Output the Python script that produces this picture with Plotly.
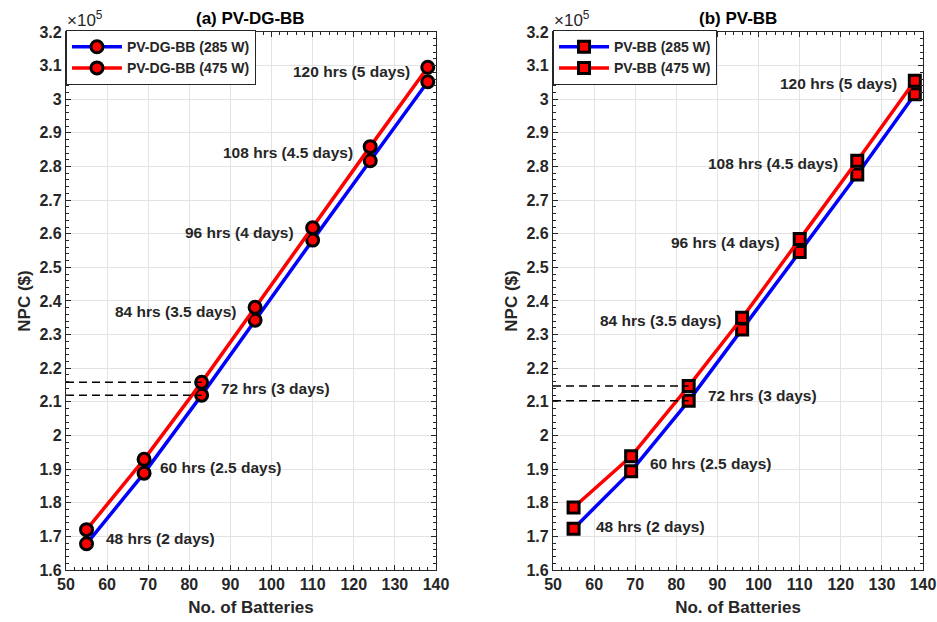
import plotly.graph_objects as go

# Number of batteries for each storage autonomy level
batteries = [55, 69, 83, 96, 110, 124, 138]
autonomy_labels = ["48 hrs (2 days)", "60 hrs (2.5 days)", "72 hrs (3 days)",
                   "84 hrs (3.5 days)", "96 hrs (4 days)", "108 hrs (4.5 days)",
                   "120 hrs (5 days)"]

# NPC in units of 1e5 $
npc_dg_285 = [1.678, 1.888, 2.120, 2.343, 2.581, 2.817, 3.052]
npc_dg_475 = [1.720, 1.929, 2.158, 2.381, 2.618, 2.859, 3.095]
npc_bb_285 = [1.723, 1.894, 2.103, 2.315, 2.546, 2.776, 3.015]
npc_bb_475 = [1.786, 1.938, 2.147, 2.350, 2.584, 2.817, 3.055]

FONT = "Liberation Sans, Arial, sans-serif"
INK = "#262626"

fig = go.Figure()

dom_a = [0.0704, 0.4653]
dom_b = [0.5902, 0.9851]
dom_y = [0.0836, 0.9486]

def add_series(x, y, name, color, symbol, xa, ya, legend):
    fig.add_trace(go.Scatter(
        x=x, y=y, name=name, mode="lines+markers",
        line=dict(color=color, width=3.5),
        marker=dict(symbol=symbol, color="#ff0000",
                    size=12 if symbol == "circle" else 11,
                    line=dict(color="black", width=3)),
        xaxis=xa, yaxis=ya, legend=legend))

add_series(batteries, npc_dg_285, "PV-DG-BB (285 W)", "#0000ff", "circle", "x", "y", "legend")
add_series(batteries, npc_dg_475, "PV-DG-BB (475 W)", "#ff0000", "circle", "x", "y", "legend")
add_series(batteries, npc_bb_285, "PV-BB (285 W)", "#0000ff", "square", "x2", "y2", "legend2")
add_series(batteries, npc_bb_475, "PV-BB (475 W)", "#ff0000", "square", "x2", "y2", "legend2")

# Dashed guides marking the 72 hr (3 day) NPC values
for ys, xa, ya in [(npc_dg_285, "x", "y"), (npc_dg_475, "x", "y"),
                   (npc_bb_285, "x2", "y2"), (npc_bb_475, "x2", "y2")]:
    fig.add_trace(go.Scatter(
        x=[50, batteries[2]], y=[ys[2], ys[2]], mode="lines",
        line=dict(color="black", width=1.5, dash="8px,5px"),
        showlegend=False, hoverinfo="skip", xaxis=xa, yaxis=ya))

# Autonomy annotations: (x, y, anchor)
pos_a = [(59.2, 1.695, "left"), (72.4, 1.906, "left"), (87.2, 2.141, "left"),
         (91.8, 2.370, "right"), (105.9, 2.605, "right"), (120.3, 2.843, "right"),
         (134.2, 3.081, "right")]
pos_b = [(60.0, 1.728, "left"), (73.1, 1.916, "left"), (87.2, 2.120, "left"),
         (91.3, 2.343, "right"), (105.7, 2.573, "right"), (119.8, 2.810, "right"),
         (134.1, 3.048, "right")]

annotations = []
for (px, py, anc), txt in zip(pos_a, autonomy_labels):
    annotations.append(dict(x=px, y=py, xref="x", yref="y", text=txt, showarrow=False,
                            xanchor=anc, yanchor="middle",
                            font=dict(family=FONT, size=15.5, color=INK, weight="bold")))
for (px, py, anc), txt in zip(pos_b, autonomy_labels):
    annotations.append(dict(x=px, y=py, xref="x2", yref="y2", text=txt, showarrow=False,
                            xanchor=anc, yanchor="middle",
                            font=dict(family=FONT, size=15.5, color=INK, weight="bold")))

# Panel titles and exponent labels
for dom, title in [(dom_a, "(a) PV-DG-BB"), (dom_b, "(b) PV-BB")]:
    annotations.append(dict(x=(dom[0] + dom[1]) / 2, y=dom_y[1], xref="paper", yref="paper",
                            text=title, showarrow=False, xanchor="center", yanchor="bottom",
                            yshift=2,
                            font=dict(family=FONT, size=17, color="black", weight="bold")))
    annotations.append(dict(x=dom[0], y=dom_y[1], xref="paper", yref="paper",
                            text="×10<sup>5</sup>", showarrow=False, xanchor="left",
                            yanchor="bottom", xshift=-1, yshift=0,
                            font=dict(family=FONT, size=17, color=INK)))

def xaxis_cfg(dom, anchor):
    return dict(domain=dom, anchor=anchor, range=[50, 140], dtick=10, tick0=50,
                automargin=False,
                showgrid=True, gridcolor="#e3e3e3", gridwidth=1,
                showline=True, linecolor=INK, linewidth=1.2, mirror="allticks",
                ticks="inside", ticklen=5, tickcolor=INK, zeroline=False,
                minor=dict(ticks="inside", dtick=2, ticklen=3, tickcolor=INK, showgrid=False),
                tickfont=dict(family=FONT, size=16, color=INK, weight="bold"),
                title=dict(text="No. of Batteries", standoff=8,
                           font=dict(family=FONT, size=17, color=INK, weight="bold")))

def yaxis_cfg(anchor):
    return dict(domain=dom_y, anchor=anchor, range=[1.6, 3.2], dtick=0.1, tick0=1.6,
                automargin=False,
                showgrid=True, gridcolor="#e3e3e3", gridwidth=1,
                showline=True, linecolor=INK, linewidth=1.2, mirror="allticks",
                ticks="inside", ticklen=5, tickcolor=INK, zeroline=False,
                minor=dict(ticks="inside", dtick=0.02, ticklen=3, tickcolor=INK, showgrid=False),
                tickfont=dict(family=FONT, size=16, color=INK, weight="bold"),
                title=dict(text="NPC ($)", standoff=4,
                           font=dict(family=FONT, size=17, color=INK, weight="bold")))

legend_style = dict(xanchor="left", yanchor="top", bgcolor="white",
                    bordercolor=INK, borderwidth=1, tracegroupgap=0,
                    itemwidth=50,
                    font=dict(family=FONT, size=14, color=INK, weight="bold"))

fig.update_layout(
    width=937, height=622,
    margin=dict(l=0, r=0, t=0, b=0),
    paper_bgcolor="white", plot_bgcolor="white",
    showlegend=True,
    xaxis=xaxis_cfg(dom_a, "y"), yaxis=yaxis_cfg("x"),
    xaxis2=xaxis_cfg(dom_b, "y2"), yaxis2=yaxis_cfg("x2"),
    legend=dict(x=dom_a[0], y=dom_y[1] + 0.003, **legend_style),
    legend2=dict(x=dom_b[0], y=dom_y[1] + 0.003, **legend_style),
    annotations=annotations,
)

fig.write_html("out.html")
